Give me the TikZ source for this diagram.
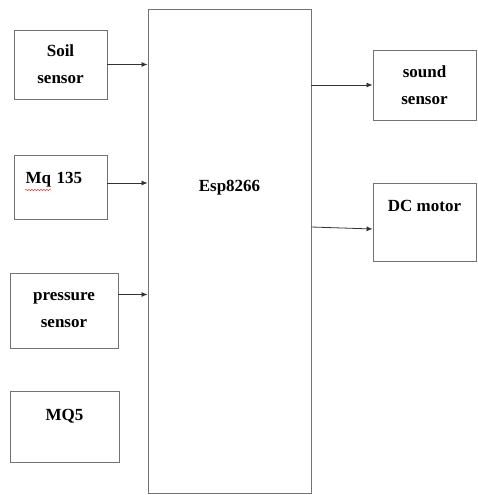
\documentclass[tikz,border=0pt]{standalone}
\usepackage{fontspec}
\setmainfont{Liberation Serif}
\usepackage{tikz}
\usetikzlibrary{arrows.meta,positioning,decorations.pathmorphing}
\definecolor{boxline}{RGB}{115,115,115}

\begin{document}
\begin{tikzpicture}[
  x=1pt,y=-1pt,
  font=\bfseries\fontsize{17}{27}\selectfont,
  sbox/.style={draw=boxline,line width=0.9pt,align=center,inner sep=0pt},
  arr/.style={-{Latex[length=6pt,width=5pt]},line width=0.8pt,color=black!80},
]
\useasboundingbox (0,0) rectangle (478,495);

\node[sbox,minimum width=93,minimum height=69] (soil) at (60.5,64.5) {Soil\\sensor};

\node[sbox,minimum width=93,minimum height=64,text height=12pt,text depth=20pt,text width=70pt,align=left] (mq) at (60.5,187) {Mq 135};

\node[sbox,minimum width=108,minimum height=75] (press) at (64,310.5) {pressure\\sensor};

\node[sbox,minimum width=109,minimum height=71,text height=12pt,text depth=25pt] (mqfive) at (64.5,426.5) {MQ5};

\node[sbox,minimum width=163,minimum height=484,text height=12pt,text depth=132pt] (esp) at (229.5,251) {Esp8266};

\node[sbox,minimum width=103,minimum height=70] (sound) at (424.5,85) {sound\\sensor};

\node[sbox,minimum width=103,minimum height=78,text height=12pt,text depth=34pt] (dc) at (424.5,222) {DC motor};

\draw[red,line width=0.4pt,decorate,decoration={snake,amplitude=0.6pt,segment length=3pt}] (25,190) -- (51,190);

\draw[arr] (soil.east) -- (soil.east -| esp.west);
\draw[arr] ([yshift=4pt]mq.east) -- ([yshift=4pt]mq.east -| esp.west);
\draw[arr] ([yshift=16pt]press.east) -- ([yshift=16pt]press.east -| esp.west);

\draw[arr] (sound.west -| esp.east) -- (sound.west);
\draw[arr] ([yshift=-5pt]dc.west -| esp.east) -- ([yshift=-7pt]dc.west);

\end{tikzpicture}
\end{document}
